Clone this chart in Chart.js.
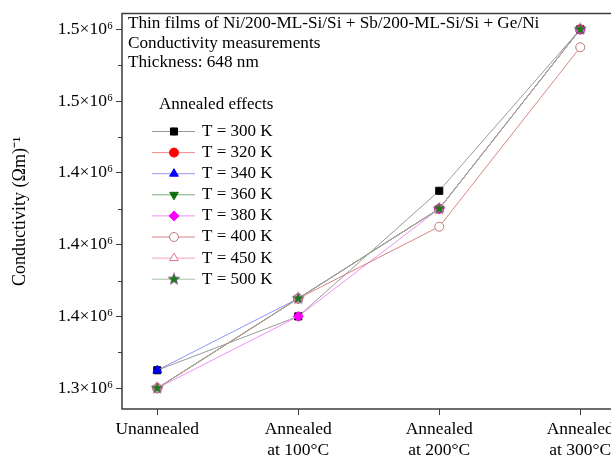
<!DOCTYPE html>
<html>
<head>
<meta charset="utf-8">
<script src="https://cdn.jsdelivr.net/npm/chart.js@4.4.1/dist/chart.umd.min.js"></script>
<style>
  html, body { margin: 0; padding: 0; background: #fff; overflow: hidden; }
  #wrap { width: 640px; height: 463px; }
</style>
</head>
<body>
<div id="wrap"><canvas id="chart" width="640" height="463"></canvas></div>
<script>
// categories along x
const categories = ['Unannealed', ['Annealed', 'at 100°C'], ['Annealed', 'at 200°C'], ['Annealed', 'at 300°C']];

// conductivity values, (Ωm)^-1
const t300 = [1.3125e6, 1.35e6, 1.4375e6, 1.55e6];
const t320 = [1.30e6, 1.3625e6, 1.425e6, 1.55e6];
const t340 = [1.3125e6, 1.3625e6, 1.425e6, 1.55e6];
const t360 = [1.30e6, 1.3625e6, 1.425e6, 1.55e6];
const t380 = [1.30e6, 1.35e6, 1.425e6, 1.55e6];
const t400 = [1.30e6, 1.3625e6, 1.4125e6, 1.5375e6];
const t450 = [1.30e6, 1.3625e6, 1.425e6, 1.55e6];
const t500 = [1.30e6, 1.3625e6, 1.425e6, 1.55e6];

// y ticks and their printed labels
const yTicks = [1.30e6, 1.35e6, 1.40e6, 1.45e6, 1.50e6, 1.55e6];
const yTickLabels = ['1.3×10⁶', '1.4×10⁶', '1.4×10⁶', '1.4×10⁶', '1.5×10⁶', '1.5×10⁶'];
const yMinorTicks = [1.325e6, 1.375e6, 1.425e6, 1.475e6, 1.525e6];

const noteLines = ['Thin films of Ni/200-ML-Si/Si + Sb/200-ML-Si/Si + Ge/Ni', 'Conductivity measurements', 'Thickness: 648 nm'];

const FONT = '"Liberation Serif", "Times New Roman", serif';

// filled star marker
function makeStar(fill) {
    const c = document.createElement('canvas');
    c.width = 14; c.height = 14;
    const g = c.getContext('2d');
    g.beginPath();
    for (let i = 0; i < 10; i++) {
        const r = i % 2 === 0 ? 6.5 : 2.8;
        const a = -Math.PI / 2 + i * Math.PI / 5;
        const px = 7 + r * Math.cos(a), py = 7 + r * Math.sin(a);
        if (i === 0) g.moveTo(px, py); else g.lineTo(px, py);
    }
    g.closePath();
    g.fillStyle = fill;
    g.fill();
    g.strokeStyle = 'rgba(200,80,200,0.6)';
    g.lineWidth = 0.8;
    g.stroke();
    return c;
}
const starImg = makeStar('#1c7a1c');

function series(label, values, line, fill, stroke, style, radius, rotation) {
    return {
        label: label,
        data: values.map((v, i) => ({ x: i, y: v })),
        borderColor: line,
        borderWidth: 1,
        pointStyle: style,
        pointRadius: radius,
        pointRotation: rotation || 0,
        pointBackgroundColor: fill,
        pointBorderColor: stroke,
        pointBorderWidth: 1,
        tension: 0
    };
}

const datasets = [
    series('T = 300 K', t300, 'rgba(120,120,120,0.75)', '#000', '#000', 'rect', 5),
    series('T = 320 K', t320, 'rgba(240,110,110,0.8)', '#ff0000', '#ff0000', 'circle', 4.5),
    series('T = 340 K', t340, 'rgba(120,120,240,0.8)', '#0000ff', '#0000ff', 'triangle', 5),
    series('T = 360 K', t360, 'rgba(90,150,90,0.8)', '#0a6e0a', '#0a6e0a', 'triangle', 5, 180),
    series('T = 380 K', t380, 'rgba(235,120,235,0.8)', '#ff00ff', '#ff00ff', 'rectRot', 5),
    series('T = 400 K', t400, 'rgba(210,110,110,0.85)', '#ffffff', '#b87878', 'circle', 4.5),
    series('T = 450 K', t450, 'rgba(230,140,180,0.8)', '#ffffff', '#e07098', 'triangle', 5),
    series('T = 500 K', t500, 'rgba(140,180,140,0.8)', '#1c7a1c', '#1c7a1c', starImg, 6)
];
// later series sit on top, as in the original plot
datasets.forEach((ds, i) => { ds.order = datasets.length - i; });

const framePlugin = {
    id: 'frame',
    afterDraw(chart) {
        const ctx = chart.ctx;
        const a = chart.chartArea;
        const y = chart.scales.y;
        ctx.save();
        ctx.strokeStyle = '#3c3c3c';
        ctx.lineWidth = 1.5;
        ctx.strokeRect(a.left, a.top, a.right - a.left, a.bottom - a.top);
        // minor y ticks
        ctx.lineWidth = 1;
        yMinorTicks.forEach(v => {
            const py = Math.round(y.getPixelForValue(v)) + 0.5;
            ctx.beginPath();
            ctx.moveTo(a.left - 4, py);
            ctx.lineTo(a.left, py);
            ctx.stroke();
        });
        // note text
        ctx.fillStyle = '#000';
        ctx.font = '17.2px ' + FONT;
        ctx.textBaseline = 'middle';
        ctx.textAlign = 'left';
        noteLines.forEach((t, i) => ctx.fillText(t, a.left + 6, 23.5 + i * 19.5));
        // legend
        const lx = 152, ly = 131.5, step = 21.1;
        ctx.font = '17px ' + FONT;
        ctx.fillText('Annealed effects', 159, 105);
        chart.data.datasets.forEach((ds, i) => {
            const yy = ly + i * step;
            ctx.strokeStyle = ds.borderColor;
            ctx.lineWidth = 1;
            ctx.beginPath();
            ctx.moveTo(lx, yy);
            ctx.lineTo(lx + 43, yy);
            ctx.stroke();
            ctx.fillStyle = ds.pointBackgroundColor;
            ctx.strokeStyle = ds.pointBorderColor;
            ctx.lineWidth = ds.pointBorderWidth;
            Chart.helpers.drawPoint(ctx, {
                pointStyle: ds.pointStyle,
                rotation: ds.pointRotation,
                radius: ds.pointRadius,
                borderWidth: ds.pointBorderWidth
            }, lx + 22, yy);
            ctx.fillStyle = '#000';
            ctx.fillText(ds.label, 202, yy);
        });
        ctx.restore();
    }
};

new Chart(document.getElementById('chart'), {
    type: 'line',
    data: { datasets: datasets },
    options: {
        responsive: false,
        animation: false,
        events: [],
        layout: { padding: { top: 10, left: 0, right: 24.5, bottom: 0 } },
        plugins: {
            legend: { display: false },
            tooltip: { enabled: false }
        },
        scales: {
            x: {
                type: 'linear',
                min: -0.25,
                max: 3.25,
                afterBuildTicks: s => { s.ticks = categories.map((c, i) => ({ value: i })); },
                afterFit: s => { s.height = 54; },
                border: { display: false },
                grid: { drawOnChartArea: false, drawTicks: true, tickLength: 6, color: '#3c3c3c', lineWidth: 1 },
                ticks: {
                    color: '#000',
                    padding: 3,
                    maxRotation: 0,
                    autoSkip: false,
                    font: { family: FONT, size: 17.5, lineHeight: 1.25 },
                    callback: v => categories[v]
                }
            },
            y: {
                min: 1.2855e6,
                max: 1.561e6,
                afterBuildTicks: s => { s.ticks = yTicks.map(v => ({ value: v })); },
                afterFit: s => { s.width = 122; },
                border: { display: false },
                grid: { drawOnChartArea: false, drawTicks: true, tickLength: 6, color: '#3c3c3c', lineWidth: 1 },
                ticks: {
                    color: '#000',
                    padding: 3,
                    font: { family: FONT, size: 17.5 },
                    callback: (v, i) => yTickLabels[i]
                },
                title: {
                    display: true,
                    text: 'Conductivity (Ωm)⁻¹',
                    color: '#000',
                    padding: { top: 9, bottom: 0 },
                    font: { family: FONT, size: 18 }
                }
            }
        }
    },
    plugins: [framePlugin]
});
</script>
</body>
</html>
